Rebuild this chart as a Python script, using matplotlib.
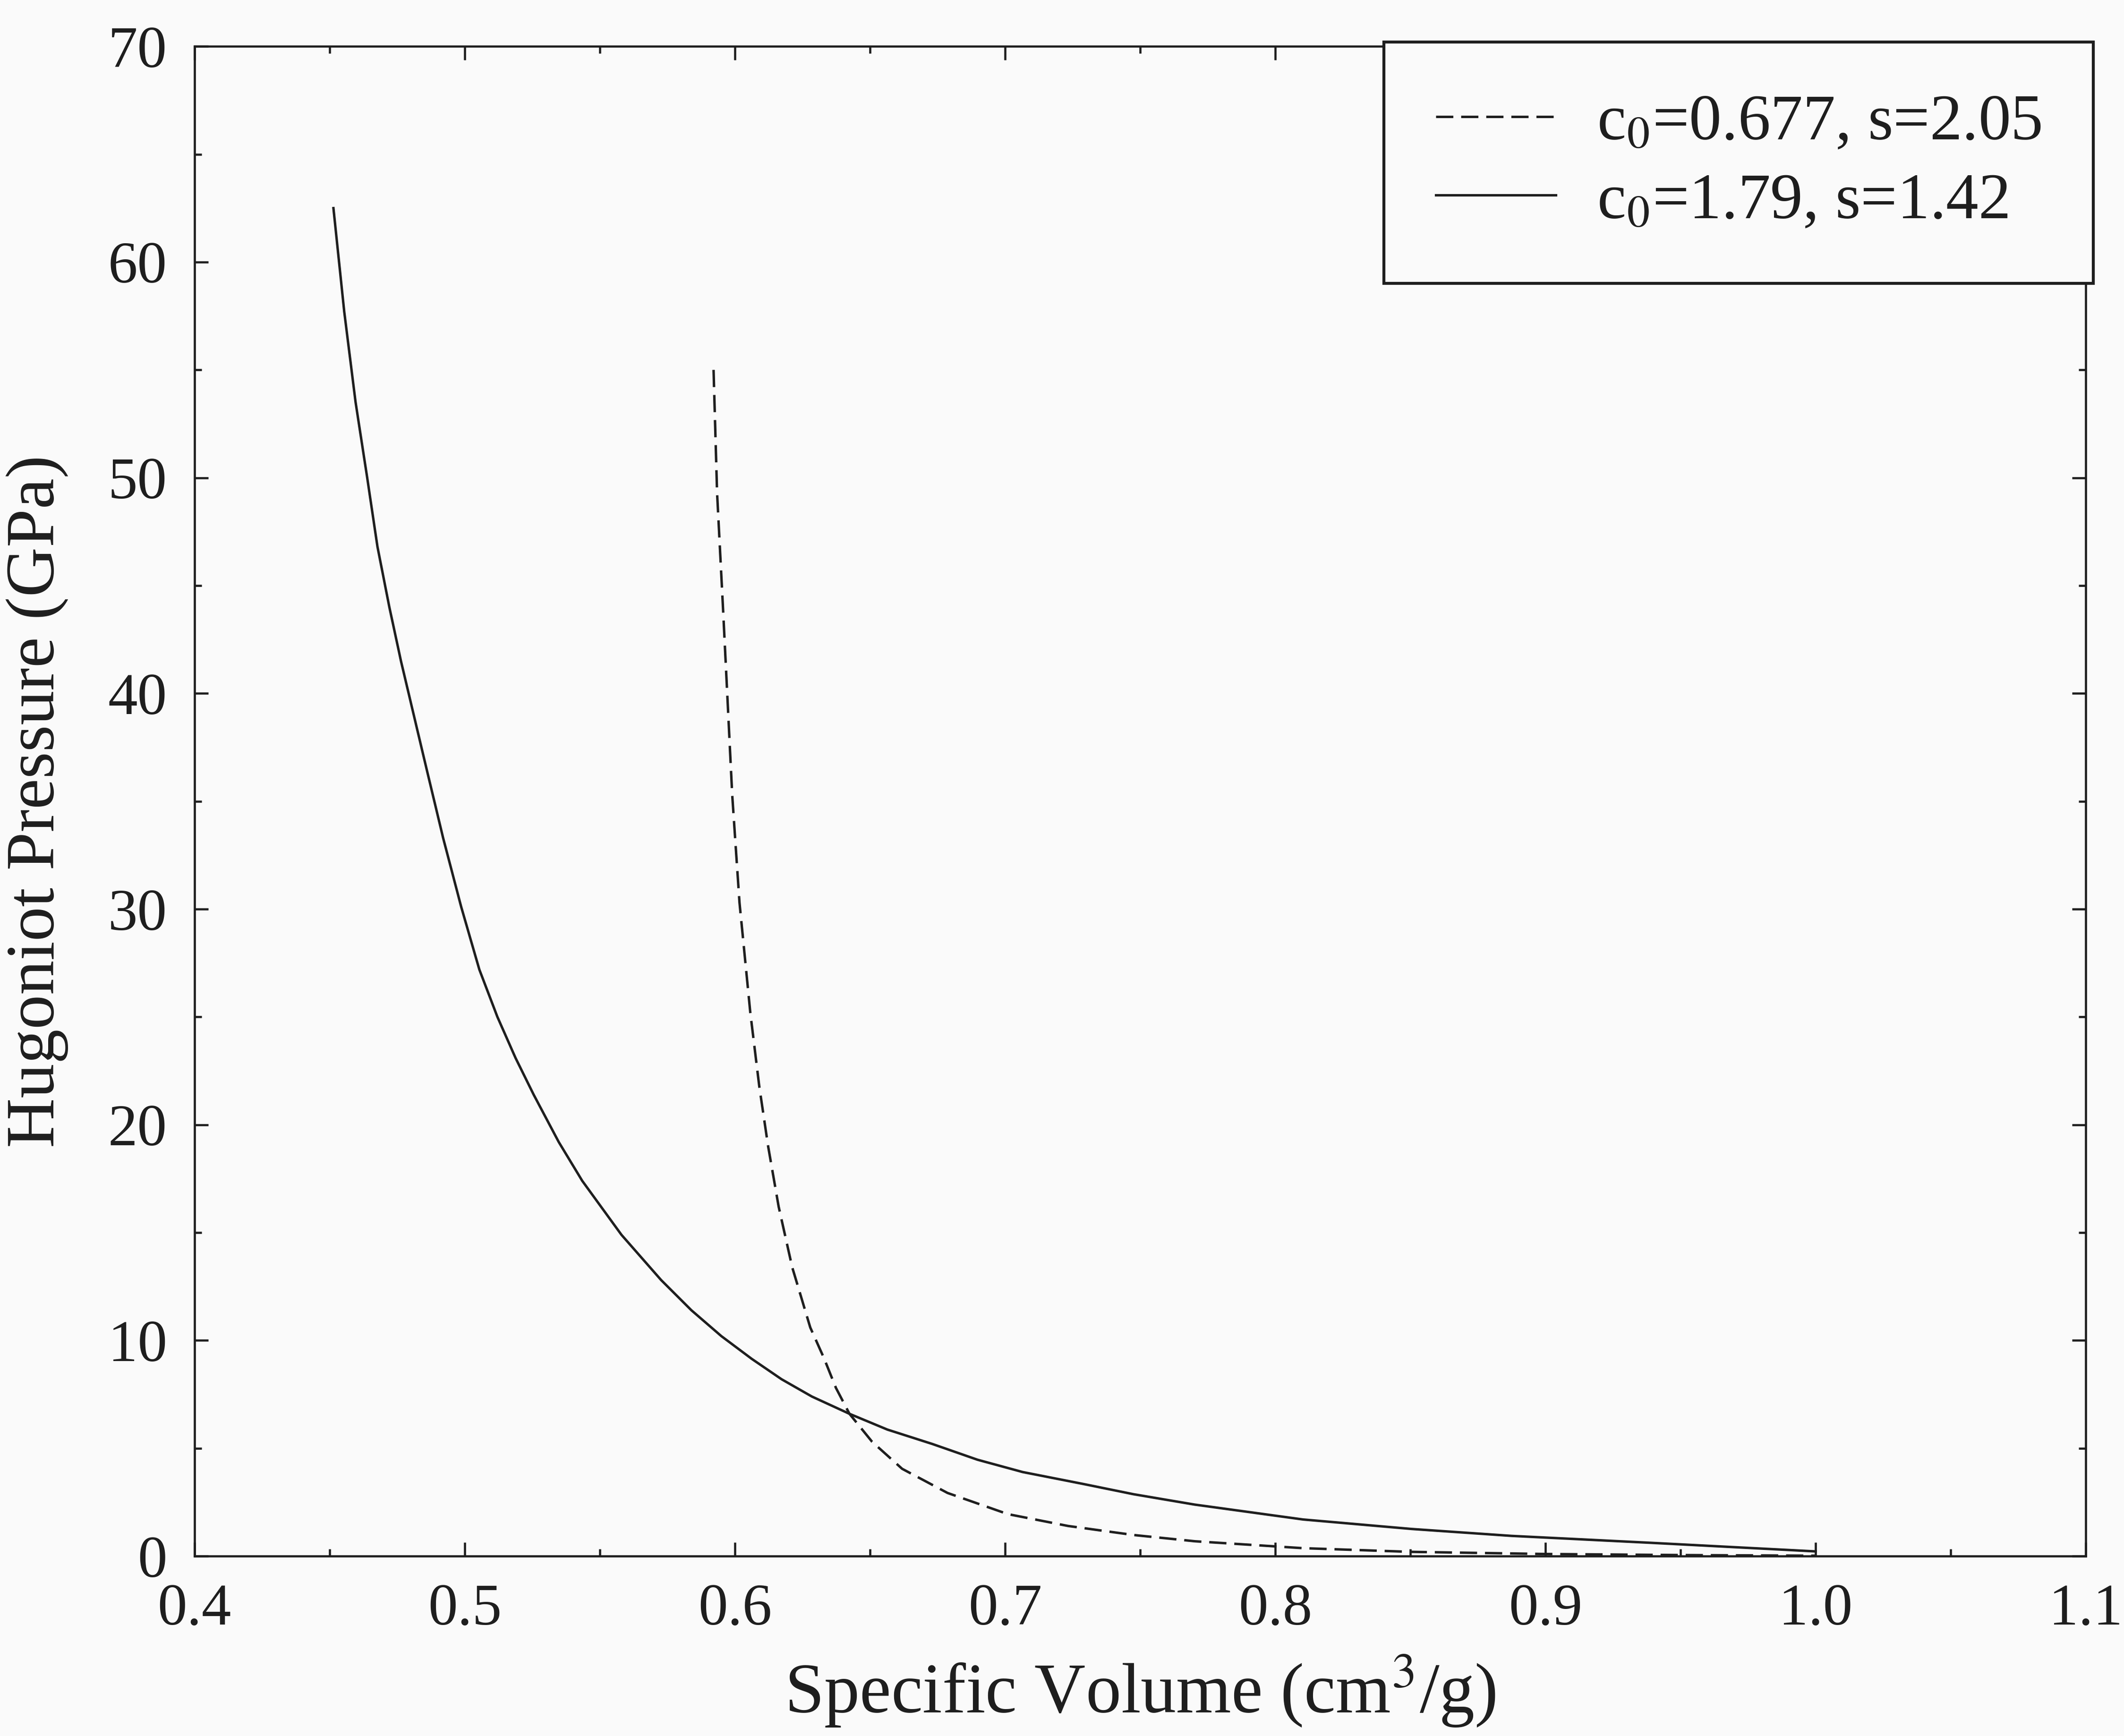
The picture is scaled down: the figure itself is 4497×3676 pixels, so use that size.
import matplotlib
matplotlib.use('Agg')
import matplotlib.pyplot as plt
from matplotlib.ticker import MultipleLocator

# Curvas de Hugoniot (volumen especifico vs presion)
vol_solid = [0.4514, 0.4554, 0.4596, 0.4639, 0.4677, 0.4721, 0.4764, 0.4853,
             0.4920, 0.4987, 0.5054, 0.5121, 0.5188, 0.5255, 0.5348, 0.5435,
             0.5580, 0.5727, 0.5839, 0.5950, 0.6062, 0.6173, 0.6285, 0.6424,
             0.6564, 0.6731, 0.6898, 0.7065, 0.7288, 0.7476, 0.7702, 0.8103,
             0.8505, 0.8874, 0.9388, 1.0000]
p_solid = [62.5, 57.7, 53.5, 50.0, 46.8, 44.0, 41.5, 36.8,
           33.3, 30.1, 27.2, 25.0, 23.1, 21.4, 19.2, 17.4,
           14.9, 12.8, 11.4, 10.2, 9.15, 8.2, 7.4, 6.6,
           5.87, 5.2, 4.47, 3.9, 3.35, 2.87, 2.39, 1.70,
           1.26, 0.94, 0.62, 0.22]

vol_dashed = [0.5921, 0.5934, 0.5957, 0.5990, 0.6017, 0.6057, 0.6090, 0.6123,
              0.6162, 0.6212, 0.6279, 0.6329, 0.6374, 0.6424, 0.6508, 0.6619,
              0.6787, 0.7010, 0.7233, 0.7476, 0.7703, 0.8103, 0.8500, 0.9000,
              0.9500, 1.0000]
p_dashed = [55.0, 49.3, 43.7, 35.3, 30.3, 25.2, 21.8, 19.0,
            16.2, 13.4, 10.6, 9.2, 7.8, 6.6, 5.3, 4.05,
            2.93, 1.95, 1.40, 0.98, 0.69, 0.37, 0.20, 0.10,
            0.05, 0.02]

label_dashed = 'c$_0$=0.677, s=2.05'
label_solid = 'c$_0$=1.79, s=1.42'

plt.rcParams['font.family'] = ['Liberation Serif', 'DejaVu Serif']
plt.rcParams['mathtext.fontset'] = 'stix'

ink = '#1e1e1e'
bg = '#fafafa'

fig = plt.figure(figsize=(4497 / 300, 3676 / 300), dpi=300, facecolor=bg)
ax = fig.add_axes([0.0916, 0.1036, 0.8904, 0.8697], facecolor=bg)

ax.plot(vol_dashed, p_dashed, color=ink, linewidth=1.25, dashes=(7, 3.2),
        label=label_dashed)
ax.plot(vol_solid, p_solid, color=ink, linewidth=1.25, label=label_solid)

ax.set_xlim(0.4, 1.1)
ax.set_ylim(0, 70)
ax.xaxis.set_major_locator(MultipleLocator(0.1))
ax.xaxis.set_minor_locator(MultipleLocator(0.05))
ax.yaxis.set_major_locator(MultipleLocator(10))
ax.yaxis.set_minor_locator(MultipleLocator(5))
ax.xaxis.set_major_formatter(plt.FuncFormatter(lambda v, p: f'{v:.1f}'))

ax.tick_params(which='both', direction='in', top=True, right=True,
               color=ink, width=1.1, labelsize=30, labelcolor=ink, pad=14)
ax.tick_params(which='major', length=7)
ax.tick_params(which='minor', length=3.6)
for s in ax.spines.values():
    s.set_linewidth(1.1)
    s.set_color(ink)

ax.set_xlabel('Specific Volume (cm$^3$/g)', fontsize=36, color=ink, labelpad=8)
ax.set_ylabel('Hugoniot Pressure (GPa)', fontsize=35, color=ink, labelpad=20)

leg = ax.legend(loc='upper right', bbox_to_anchor=(1.004, 1.003), borderaxespad=0,
                fontsize=33, frameon=True, fancybox=False, handlelength=1.85,
                handletextpad=0.63, borderpad=0.8, labelspacing=0.3)
leg.get_frame().set_edgecolor(ink)
leg.get_frame().set_linewidth(1.5)
leg.get_frame().set_facecolor(bg)
leg.get_frame().set_alpha(1)
for t in leg.get_texts():
    t.set_color(ink)

plt.savefig('out.png', dpi=300, facecolor=bg)
